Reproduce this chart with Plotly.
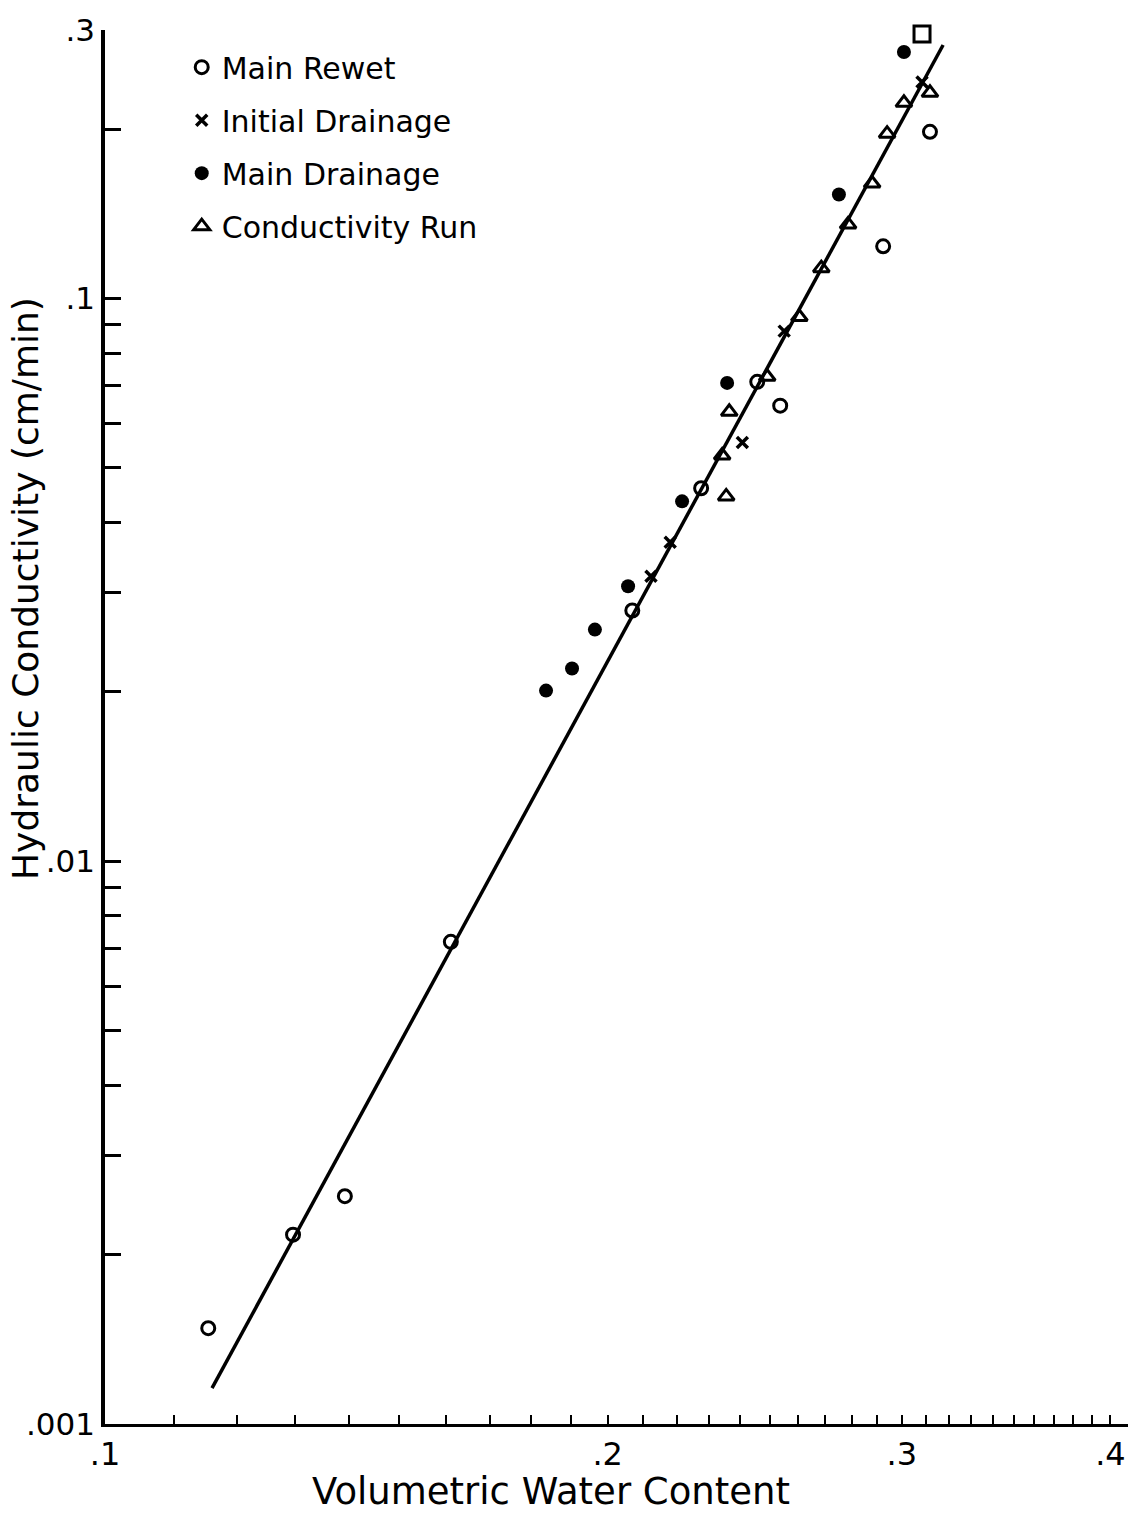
import plotly.graph_objects as go

# ---- data (volumetric water content, hydraulic conductivity cm/min)
rewet_theta = [0.1153, 0.1296, 0.1392, 0.1611, 0.2069, 0.2275, 0.2458, 0.2537, 0.2924, 0.3119]
rewet_k = [0.00148, 0.00217, 0.00254, 0.00719, 0.0279, 0.0460, 0.0711, 0.0645, 0.1238, 0.1978]

init_theta = [0.2123, 0.2180, 0.2408, 0.2551, 0.3085]
init_k = [0.0321, 0.0369, 0.0555, 0.0875, 0.2426]

main_theta = [0.1837, 0.1904, 0.1965, 0.2057, 0.2216, 0.2358, 0.2751, 0.3009]
main_k = [0.0201, 0.0220, 0.0258, 0.0308, 0.0436, 0.0708, 0.1530, 0.2742]

cond_theta = [0.2342, 0.2355, 0.2365, 0.2492, 0.2605, 0.2685, 0.2786, 0.2880, 0.2940, 0.3009, 0.3119]
cond_k = [0.0526, 0.0445, 0.0629, 0.0726, 0.0927, 0.1132, 0.1354, 0.1601, 0.1963, 0.2227, 0.2320]

square_theta = [0.3085]
square_k = [0.2950]

fit_theta = [0.1159, 0.3176]
fit_k = [0.001158, 0.2821]

x_ticks = [0.1, 0.2, 0.3, 0.4]
x_ticktext = [".1", ".2", ".3", ".4"]
x_minor = [0.11, 0.12, 0.13, 0.14, 0.15, 0.16, 0.17, 0.18, 0.19,
           0.21, 0.22, 0.23, 0.24, 0.25, 0.26, 0.27, 0.28, 0.29,
           0.31, 0.32, 0.33, 0.34, 0.35, 0.36, 0.37, 0.38, 0.39]
y_ticks = [0.001, 0.01, 0.1, 0.3]
y_ticktext = [".001", ".01", ".1", ".3"]
y_minor = [0.002, 0.003, 0.004, 0.005, 0.006, 0.007, 0.008, 0.009,
           0.02, 0.03, 0.04, 0.05, 0.06, 0.07, 0.08, 0.09, 0.2]

FONT = "DejaVu Sans"
BLACK = "#000000"

fig = go.Figure()

fig.add_trace(go.Scatter(
    x=fit_theta, y=fit_k, mode="lines",
    line=dict(color=BLACK, width=3.5), showlegend=False, hoverinfo="skip"))

fig.add_trace(go.Scatter(
    x=rewet_theta, y=rewet_k, mode="markers", name="Main Rewet", legendgroup="a",
    marker=dict(symbol="circle-open", size=13, color=BLACK, line=dict(width=3, color=BLACK))))
fig.add_trace(go.Scatter(
    x=init_theta, y=init_k, mode="markers", name="Initial Drainage", legendgroup="b",
    marker=dict(symbol="x-thin", size=11, color=BLACK, line=dict(width=3.5, color=BLACK))))
fig.add_trace(go.Scatter(
    x=main_theta, y=main_k, mode="markers", name="Main Drainage", legendgroup="c",
    marker=dict(symbol="circle", size=14, color=BLACK)))
fig.add_trace(go.Scatter(
    x=cond_theta, y=cond_k, mode="markers", name="Conductivity Run", legendgroup="d",
    marker=dict(symbol="triangle-up-open", size=14, color=BLACK, line=dict(width=3, color=BLACK))))
fig.add_trace(go.Scatter(
    x=square_theta, y=square_k, mode="markers", showlegend=False, cliponaxis=False,
    marker=dict(symbol="square-open", size=16, color=BLACK, line=dict(width=3, color=BLACK))))

fig.update_layout(
    width=1143, height=1517,
    margin=dict(l=105, r=15, t=25, b=93),
    paper_bgcolor="white", plot_bgcolor="white",
    font=dict(family=FONT, color=BLACK, size=30),
    legend=dict(x=0.075, y=0.992, xanchor="left", yanchor="top",
                font=dict(family=FONT, size=30, color=BLACK),
                bgcolor="rgba(0,0,0,0)", tracegroupgap=11, traceorder="grouped"),
    xaxis=dict(type="log", range=[-1, -0.3874],
               showline=True, linecolor=BLACK, linewidth=3,
               showgrid=False, zeroline=False,
               ticks="inside", ticklen=9, tickwidth=2, tickcolor=BLACK,
               tickvals=x_ticks, ticktext=x_ticktext,
               tickfont=dict(family=FONT, size=32, color=BLACK),
               minor=dict(tickvals=x_minor, ticks="inside", ticklen=9, tickwidth=2,
                          tickcolor=BLACK, showgrid=False)),
    yaxis=dict(type="log", range=[-3, -0.5229],
               showline=True, linecolor=BLACK, linewidth=3.5,
               showgrid=False, zeroline=False,
               ticks="inside", ticklen=16, tickwidth=2.5, tickcolor=BLACK,
               tickvals=y_ticks, ticktext=y_ticktext,
               tickfont=dict(family=FONT, size=31, color=BLACK),
               minor=dict(tickvals=y_minor, ticks="inside", ticklen=16, tickwidth=2.5,
                          tickcolor=BLACK, showgrid=False)),
    annotations=[
        dict(text="Volumetric Water Content", xref="paper", yref="paper",
             x=(551 - 105) / 1023, y=-(1492 - 1424) / 1399, xanchor="center", yanchor="middle",
             showarrow=False, font=dict(family=FONT, size=37, color=BLACK)),
        dict(text="Hydraulic Conductivity (cm/min)", xref="paper", yref="paper",
             x=-(105 - 26) / 1023, y=(1424 - 586) / 1399, xanchor="center", yanchor="middle",
             textangle=-90, showarrow=False, font=dict(family=FONT, size=36, color=BLACK)),
    ],
)

fig.write_html("out.html")
